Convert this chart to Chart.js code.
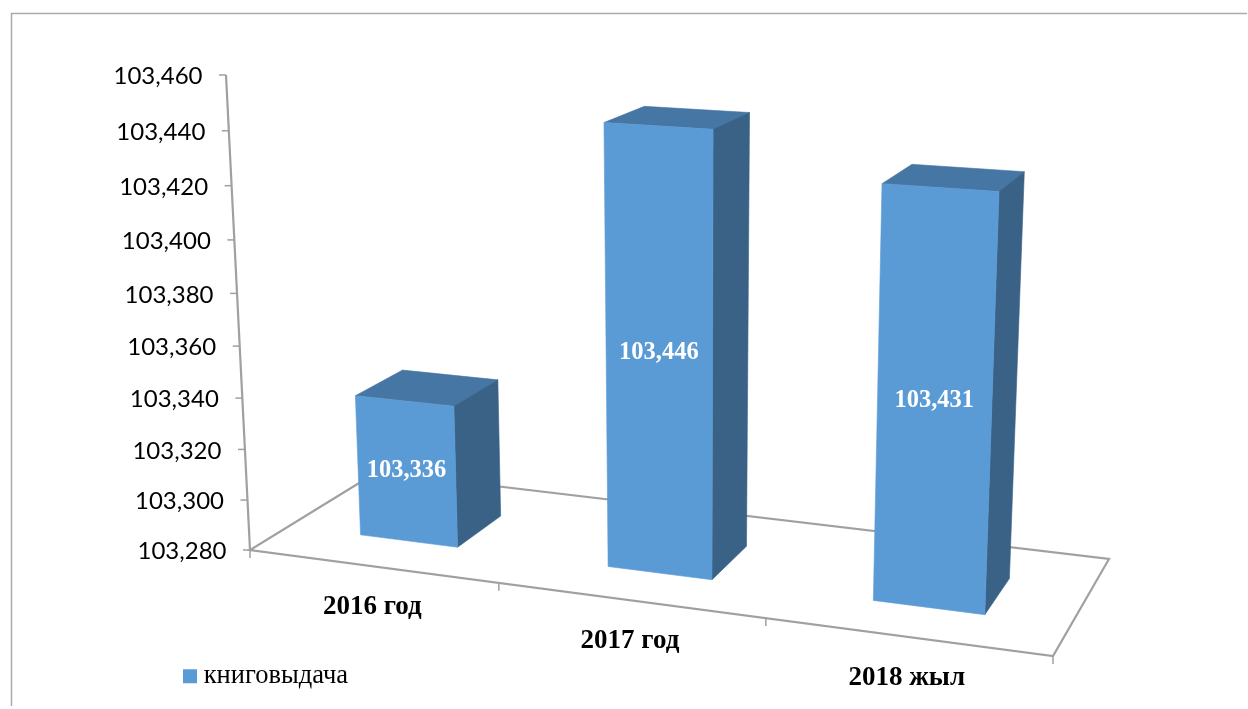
<!DOCTYPE html>
<html><head><meta charset="utf-8">
<style>html,body{margin:0;padding:0;background:#fff}#w{position:relative;width:1248px;height:709px}canvas{display:block}</style>
<script src="https://cdn.jsdelivr.net/npm/chart.js@4/dist/chart.umd.js"></script>
</head><body><div id="w"><canvas id="c" width="1248" height="709"></canvas></div>
<script>
const categories = ['2016 год', '2017 год', '2018 жыл'];
const seriesName = 'книговыдача';
const seriesValues = [103336, 103446, 103431];
const axisMin = 103280, axisMax = 103460, axisStep = 20;

// --- view of the 3D box: floor corners on screen + vertical vanishing point
const floor = [[250,550],[1053,656],[1109,559],[377,472]];
const vanish = [626,7992], vanishDrift = [120,100], rise = -0.06;
const depthFront = 0.29, depthBack = 0.67;
const [[x0,y0],[x1,y1],[x2,y2],[x3,y3]] = floor;
const sx=x0-x1+x2-x3, sy=y0-y1+y2-y3, dx1=x1-x2, dx2=x3-x2, dy1=y1-y2, dy2=y3-y2;
const det=dx1*dy2-dx2*dy1, g=(sx*dy2-dx2*sy)/det, h=(dx1*sy-sx*dy1)/det;
const a=x1-x0+g*x1, b=x3-x0+h*x3, d=y1-y0+g*y1, e=y3-y0+h*y3;
function P(u,v,n){
  const w=g*u+h*v+1+n*rise;
  const vx=vanish[0]+vanishDrift[0]*u, vy=vanish[1]+vanishDrift[1]*u;
  return [(a*u+b*v+x0+n*rise*vx)/w,(d*u+e*v+y0+n*rise*vy)/w];
}
const normY = (s,val)=>(val-s.min)/(s.max-s.min);
const LINE='#a0a0a0';

class ProjectedLinear extends Chart.LinearScale{
  _computeLabelArea(){return undefined;}
  _computeLabelItems(area){
    const items=super._computeLabelItems(area);
    items.forEach((it,i)=>{
      const p=P(0,0,normY(this,this.ticks[i].value));
      it.textOffset=0;
      it.options.textAlign='right';it.options.textBaseline='middle';
      it.options.translation=[p[0]-23.5,p[1]+1.5];
    });
    return items;
  }
}
ProjectedLinear.id='projectedLinear';ProjectedLinear.defaults=Chart.LinearScale.defaults;
class ProjectedCategory extends Chart.CategoryScale{
  _computeLabelArea(){return undefined;}
  _computeLabelItems(area){
    const items=super._computeLabelItems(area);
    items.forEach((it,i)=>{
      const u=(this.getPixelForTick(i)-this.left)/this.width;
      const p=P(u,0,0);
      it.textOffset=0;
      it.options.textAlign='center';it.options.textBaseline='middle';
      it.options.translation=[p[0],p[1]+41];
    });
    return items;
  }
}
ProjectedCategory.id='projectedCategory';ProjectedCategory.defaults=Chart.CategoryScale.defaults;
Chart.register(ProjectedLinear,ProjectedCategory);

function barGeom(el,chart){
  const ar=chart.chartArea, W=ar.right-ar.left;
  const uL=(el.x-el.width/2-ar.left)/W, uR=(el.x+el.width/2-ar.left)/W;
  const n=(ar.bottom-el.y)/(ar.bottom-ar.top);
  return {uL,uR,n};
}
function poly(ctx,pts,fill){
  ctx.beginPath();pts.forEach((p,i)=>i?ctx.lineTo(p[0],p[1]):ctx.moveTo(p[0],p[1]));ctx.closePath();
  ctx.fillStyle=fill;ctx.strokeStyle=fill;ctx.lineWidth=0.6;ctx.fill();ctx.stroke();
}
Chart.BarElement.prototype.draw=function(ctx){
  const chart=Chart.getChart(ctx.canvas);
  const {uL,uR,n}=barGeom(this,chart);
  const f=depthFront,k=depthBack;
  ctx.save();
  poly(ctx,[P(uL,f,n),P(uR,f,n),P(uR,k,n),P(uL,k,n)],'#4676a4');
  poly(ctx,[P(uR,f,0),P(uR,k,0),P(uR,k,n),P(uR,f,n)],'#396286');
  poly(ctx,[P(uL,f,0),P(uR,f,0),P(uR,f,n),P(uL,f,n)],this.options.backgroundColor);
  ctx.restore();
};

const room={
  id:'room',
  beforeDraw(chart){
    const c=chart.ctx;c.save();
    c.strokeStyle='#ababab';c.lineWidth=1.5;
    c.beginPath();c.moveTo(11.5,706);c.lineTo(11.5,13.5);c.lineTo(1247,13.5);c.stroke();
    c.restore();
  },
  beforeDatasetsDraw(chart){
    const c=chart.ctx,xs=chart.scales.x,ys=chart.scales.y;c.save();
    c.strokeStyle=LINE;c.lineWidth=2.2;c.lineJoin='miter';
    c.beginPath();
    [P(0,1,0),P(1,1,0),P(1,0,0),P(0,0,0),P(0,1,0)].forEach((p,i)=>i?c.lineTo(p[0],p[1]):c.moveTo(p[0],p[1]));
    c.stroke();
    const t=P(0,0,1),o=P(0,0,0);
    c.beginPath();c.moveTo(o[0],o[1]);c.lineTo(t[0],t[1]);c.stroke();
    c.lineWidth=1.5;
    ys.ticks.forEach(tk=>{const p=P(0,0,normY(ys,tk.value));c.beginPath();c.moveTo(p[0],p[1]);c.lineTo(p[0]-7,p[1]);c.stroke();});
    for(let i=0;i<=xs.ticks.length;i++){const p=P(i/xs.ticks.length,0,0);c.beginPath();c.moveTo(p[0],p[1]);c.lineTo(p[0],p[1]+8);c.stroke();}
    c.restore();
  },
  afterDatasetsDraw(chart){
    const c=chart.ctx;c.save();
    c.font='bold 24.5px "Liberation Serif"';c.fillStyle='#fff';c.textAlign='center';c.textBaseline='middle';
    chart.getDatasetMeta(0).data.forEach((el,i)=>{
      const {uL,uR,n}=barGeom(el,chart);
      const p=P((uL+uR)/2,depthFront,n*0.507);
      c.fillText(seriesValues[i].toLocaleString('en-US'),p[0],p[1]);
    });
    c.restore();
  }
};

new Chart(document.getElementById('c'),{
  type:'bar',
  data:{labels:categories,datasets:[{label:seriesName,data:seriesValues,backgroundColor:'#5b9bd5',clip:false,
    barPercentage:0.4,categoryPercentage:1}]},
  plugins:[room],
  options:{
    responsive:false,animation:false,
    layout:{padding:{left:179.5,right:195,top:75,bottom:9.5}},
    plugins:{
      tooltip:{enabled:false},
      legend:{display:true,position:'bottom',align:'start',
        labels:{usePointStyle:true,pointStyle:'rect',boxWidth:1,boxHeight:14,padding:10,color:'#000',
          font:{family:'"Liberation Serif"',size:26.5}}}
    },
    scales:{
      x:{type:'projectedCategory',offset:true,grid:{display:false},border:{display:false},
        afterFit(s){s.height=103;},
        ticks:{maxRotation:0,autoSkip:false,color:'#000',font:{family:'"Liberation Serif"',size:27,weight:'bold'}}},
      y:{type:'projectedLinear',min:axisMin,max:axisMax,grid:{display:false},border:{display:false},
        afterFit(s){s.width=70.5;},
        ticks:{stepSize:axisStep,autoSkip:false,color:'#000',font:{family:'Lato',size:24},
          callback:v=>v.toLocaleString('en-US')}}
    }
  }
});
</script></body></html>
